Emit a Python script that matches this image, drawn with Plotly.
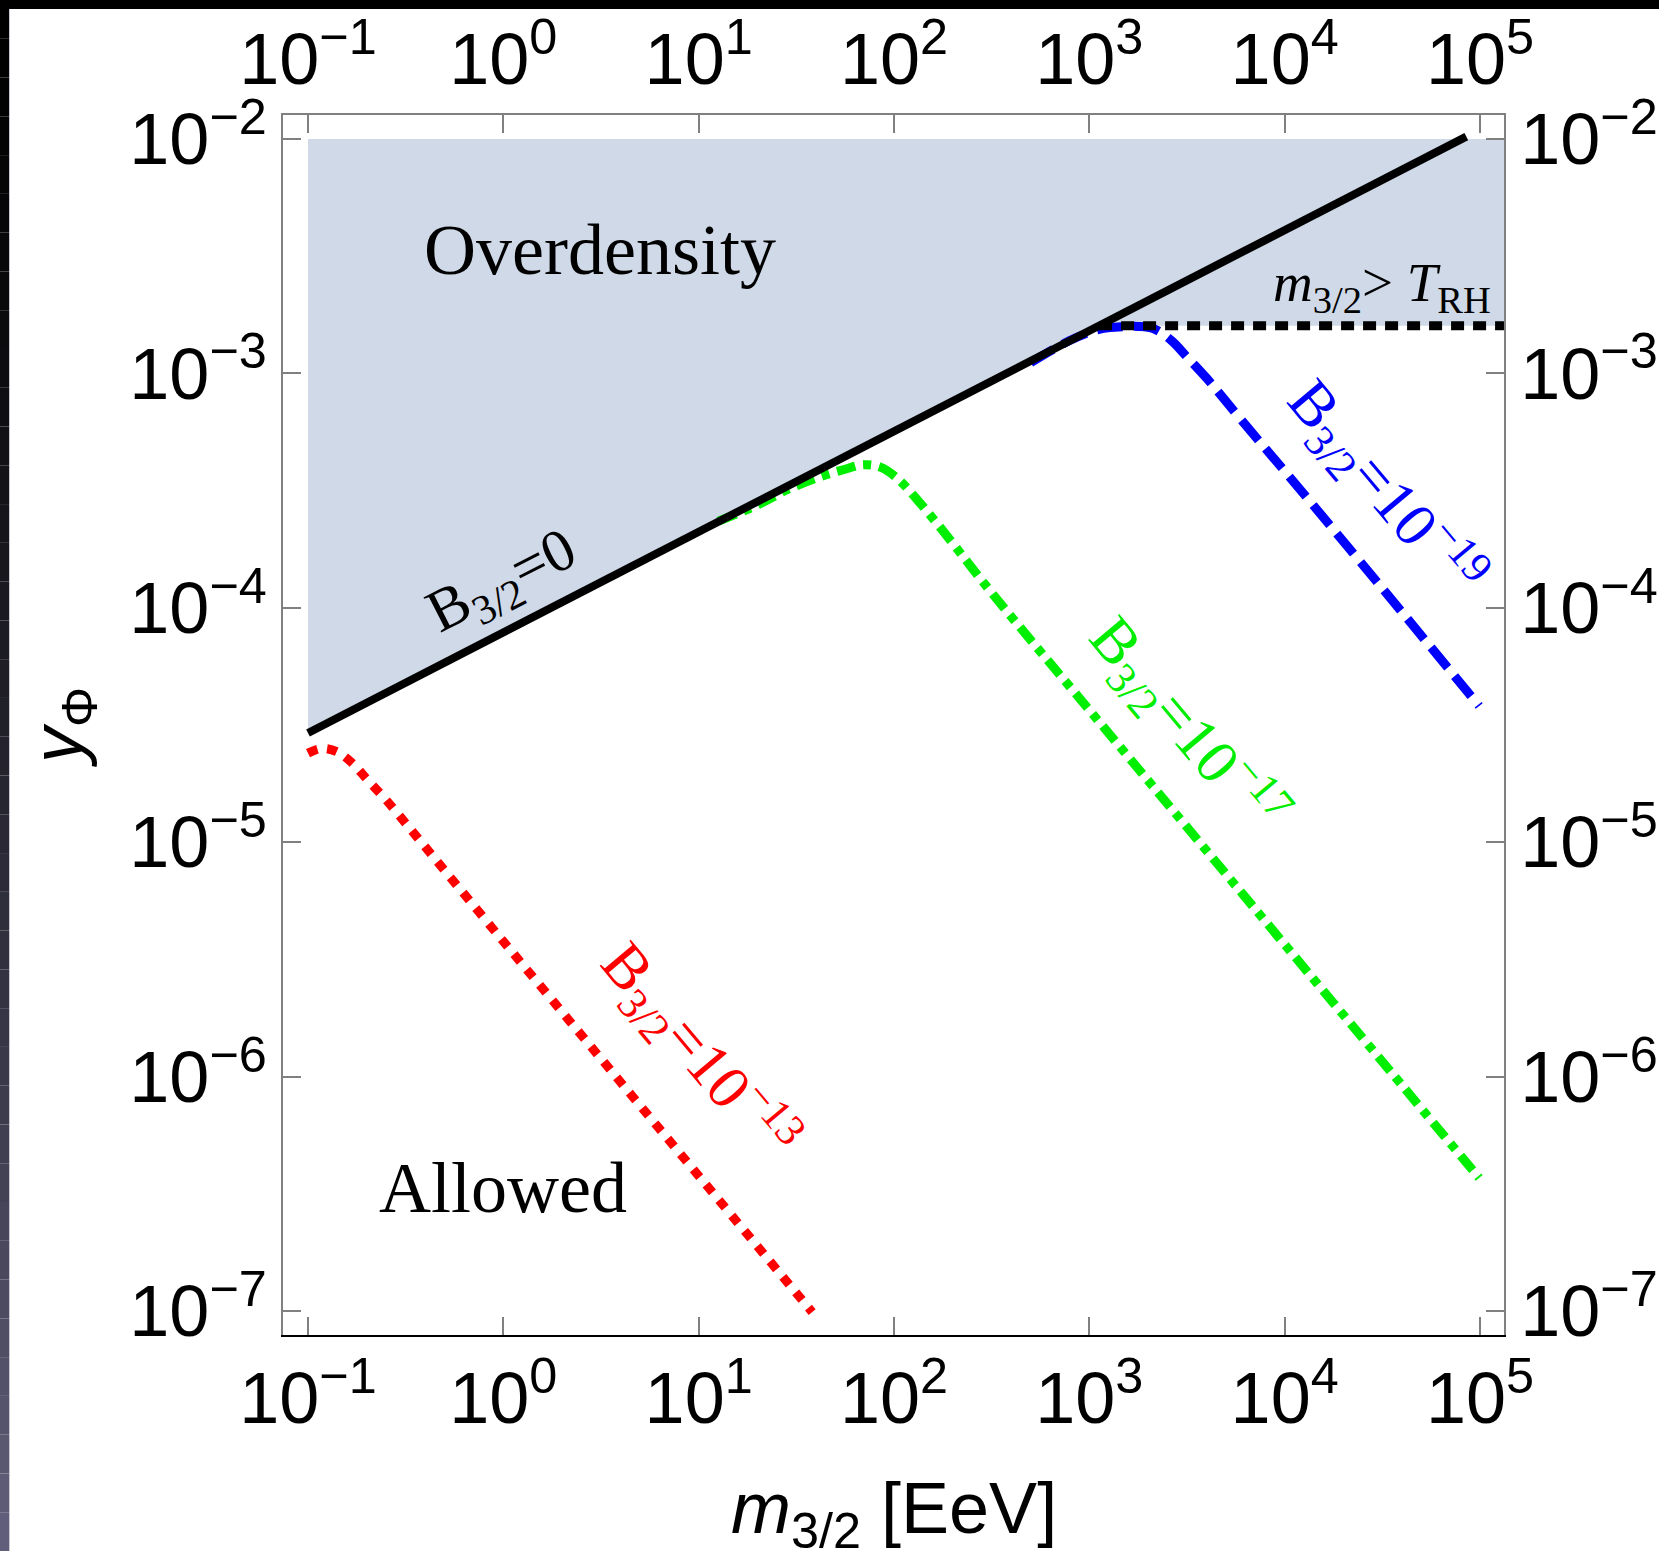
import plotly.graph_objects as go

# ---------------- data ----------------
# B_{3/2}=0 boundary (solid black)
black_m = [0.1, 10.0, 1000.0, 8.511e4]
black_y = [2.924e-5, 2.109e-4, 1.521e-3, 1.023e-2]

# m_{3/2} > T_RH line (black dotted)
trh_m = [1122.0, 1.327e5]
trh_y = [1.596e-3, 1.596e-3]

# B_{3/2}=1e-19 (blue dashed)
blue_m = [501.2, 794.3, 1122.0, 1413.0, 1778.0, 2138.0, 2630.0, 3162.0,
          3981.0, 5012.0, 7079.0, 1.0e4, 3.162e4, 9.908e4]
blue_y = [1.110e-3, 1.380e-3, 1.540e-3, 1.575e-3, 1.585e-3, 1.549e-3,
          1.380e-3, 1.175e-3, 9.550e-4, 7.586e-4, 5.370e-4, 3.828e-4, 1.211e-4, 3.811e-5]

# B_{3/2}=1e-17 (green dash-dot)
green_m = [12.59, 19.95, 28.18, 41.69, 56.23, 69.18, 85.11, 104.7, 131.8, 166.0,
           208.9, 316.2, 1000.0, 3162.0, 1.0e4, 3.162e4, 9.908e4]
green_y = [2.340e-4, 2.740e-4, 3.180e-4, 3.620e-4, 3.900e-4, 4.074e-4, 3.981e-4,
           3.548e-4, 2.884e-4, 2.291e-4, 1.799e-4, 1.159e-4, 3.664e-5, 1.159e-5,
           3.664e-6, 1.159e-6, 3.698e-7]

# B_{3/2}=1e-13 (red dotted)
red_m = [0.1, 0.1175, 0.1413, 0.1698, 0.1995, 0.2512, 0.3548, 1.0, 3.162, 10.0, 38.11]
red_y = [2.399e-5, 2.512e-5, 2.427e-5, 2.163e-5, 1.862e-5, 1.514e-5, 1.072e-5,
         3.776e-6, 1.194e-6, 3.776e-7, 9.908e-8]

# Overdensity region (filled polygon)
fill_m = [0.1, 1122.0, 1.327e5, 1.327e5, 0.1, 0.1]
fill_y = [2.924e-5, 1.596e-3, 1.596e-3, 1.0e-2, 1.0e-2, 2.924e-5]

# tick values / labels
x_tickvals = [1e-1, 1e0, 1e1, 1e2, 1e3, 1e4, 1e5]
x_ticktext = ["10<sup>−1</sup>", "10<sup>0</sup>", "10<sup>1</sup>", "10<sup>2</sup>",
              "10<sup>3</sup>", "10<sup>4</sup>", "10<sup>5</sup>"]
y_tickvals = [1e-7, 1e-6, 1e-5, 1e-4, 1e-3, 1e-2]
y_ticktext = ["10<sup>−7</sup>", "10<sup>−6</sup>", "10<sup>−5</sup>", "10<sup>−4</sup>",
              "10<sup>−3</sup>", "10<sup>−2</sup>"]

X_RANGE = [-1.128, 5.123]
Y_RANGE = [-7.102, -1.898]

SANS = "Liberation Sans, Arial, sans-serif"
SERIF = "Liberation Serif, Times New Roman, serif"

W, H = 1659, 1551
ML, MR, MT, MB = 283, 155, 115, 216
PW = W - ML - MR
PH = H - MT - MB


def px(xp):
    return (xp - ML) / PW


def py(yp):
    return (H - MB - yp) / PH


fig = go.Figure()

fig.add_trace(go.Scatter(x=fill_m, y=fill_y, mode="lines", fill="toself",
                         fillcolor="#cfd9e7", line=dict(width=0), hoverinfo="skip",
                         showlegend=False))
fig.add_trace(go.Scatter(x=red_m, y=red_y, mode="lines", line_shape="spline",
                         line=dict(color="#ff0000", width=9, dash="10px,10px"),
                         showlegend=False))
fig.add_trace(go.Scatter(x=green_m, y=green_y, mode="lines", line_shape="spline",
                         line=dict(color="#00ee00", width=9, dash="19px,8px,8px,8px"),
                         showlegend=False))
fig.add_trace(go.Scatter(x=blue_m, y=blue_y, mode="lines", line_shape="spline",
                         line=dict(color="#0000ff", width=9, dash="26px,11px"),
                         showlegend=False))
fig.add_trace(go.Scatter(x=trh_m, y=trh_y, mode="lines",
                         line=dict(color="#000000", width=9, dash="13px,9px"),
                         showlegend=False))
fig.add_trace(go.Scatter(x=black_m, y=black_y, mode="lines",
                         line=dict(color="#000000", width=8),
                         showlegend=False))
# invisible trace to activate top/right axes
fig.add_trace(go.Scatter(x=[1.0], y=[1e-4], xaxis="x2", yaxis="y2", mode="markers",
                         marker=dict(opacity=0), hoverinfo="skip", showlegend=False))

axis_common = dict(type="log", showgrid=False, zeroline=False, ticks="inside",
                   ticklen=18, tickwidth=1.5, tickcolor="#808080", automargin=False,
                   tickfont=dict(family=SANS, size=72, color="black"),
                   showline=True, linewidth=1.5, linecolor="#808080")

fig.update_layout(
    width=W, height=H, autosize=False,
    margin=dict(l=ML, r=MR, t=MT, b=MB, pad=0, autoexpand=False),
    paper_bgcolor="white", plot_bgcolor="white",
    xaxis=dict(range=X_RANGE, tickvals=x_tickvals, ticktext=x_ticktext,
               **{**axis_common, "linecolor": "#000000", "linewidth": 2}),
    yaxis=dict(range=Y_RANGE, tickvals=y_tickvals, ticktext=y_ticktext, **axis_common),
    xaxis2=dict(range=X_RANGE, tickvals=x_tickvals, ticktext=x_ticktext,
                overlaying="x", side="top", anchor="y2", **axis_common),
    yaxis2=dict(range=Y_RANGE, tickvals=y_tickvals, ticktext=y_ticktext,
                overlaying="y", side="right", anchor="x2", **axis_common),
)

annotations = [
    dict(text="Overdensity", x=0.495, y=-2.475, xref="x", yref="y", showarrow=False,
         font=dict(family=SERIF, size=72, color="black"), xanchor="center", yanchor="middle"),
    dict(text="Allowed", x=0.0, y=-6.475, xref="x", yref="y", showarrow=False,
         font=dict(family=SERIF, size=72, color="black"), xanchor="center", yanchor="middle"),
    dict(text="<i>m</i><sub>3/2</sub>> <i>T</i><sub>RH</sub>", x=5.068, y=-2.63,
         xref="x", yref="y", showarrow=False,
         font=dict(family=SERIF, size=55, color="black"), xanchor="right", yanchor="middle"),
    dict(text="B<sub>3/2</sub>=0", x=0.0, y=-3.895, xref="x", yref="y", showarrow=False,
         textangle=-27, font=dict(family=SERIF, size=60, color="black")),
    dict(text="B<sub>3/2</sub>=10<sup>−19</sup>", x=4.52, y=-3.49, xref="x", yref="y",
         showarrow=False, textangle=50, font=dict(family=SERIF, size=62, color="#0000ff")),
    dict(text="B<sub>3/2</sub>=10<sup>−17</sup>", x=3.505, y=-4.50, xref="x", yref="y",
         showarrow=False, textangle=50, font=dict(family=SERIF, size=62, color="#00ee00")),
    dict(text="B<sub>3/2</sub>=10<sup>−13</sup>", x=1.0, y=-5.89, xref="x", yref="y",
         showarrow=False, textangle=50, font=dict(family=SERIF, size=62, color="#ff0000")),
    # axis titles
    dict(text="<i>m</i><sub>3/2</sub> [EeV]", x=0.5, y=py(1513), xref="paper", yref="paper",
         showarrow=False, font=dict(family=SANS, size=72, color="black"),
         xanchor="center", yanchor="middle"),
    dict(text="<i>y</i><sub>Φ</sub>", x=px(62), y=py(728), xref="paper", yref="paper",
         showarrow=False, textangle=-90, font=dict(family=SANS, size=72, color="black"),
         xanchor="center", yanchor="middle"),
]
fig.update_layout(annotations=annotations)

# page border decoration (black top strip, dark gradient left strip)
shapes = [dict(type="rect", xref="paper", yref="paper", x0=px(0), x1=px(W), y0=py(9), y1=py(0),
               fillcolor="black", line=dict(width=0), layer="above")]
N = 40
c0 = (0, 0, 0)
c1 = (98, 96, 124)
for i in range(N):
    t = (i + 0.5) / N
    col = tuple(int(round(c0[k] + (c1[k] - c0[k]) * t ** 1.4)) for k in range(3))
    shapes.append(dict(type="rect", xref="paper", yref="paper", x0=px(0), x1=px(9),
                       y0=py((i + 1) * H / N), y1=py(i * H / N),
                       fillcolor="rgb(%d,%d,%d)" % col, line=dict(width=0), layer="above"))
shapes.append(dict(type="line", xref="paper", yref="paper", x0=px(9.5), x1=px(9.5),
                   y0=py(H), y1=py(9), line=dict(color="#c8c8d0", width=1), layer="above"))
fig.update_layout(shapes=shapes)

fig.write_html(
    "out.html",
    config={"displayModeBar": False},
    post_script=("document.documentElement.style.margin='0';"
                 "document.documentElement.style.padding='0';"
                 "document.documentElement.style.overflow='hidden';"
                 "document.body.style.margin='0';document.body.style.padding='0';"
                 "document.body.style.overflow='hidden';"),
)
